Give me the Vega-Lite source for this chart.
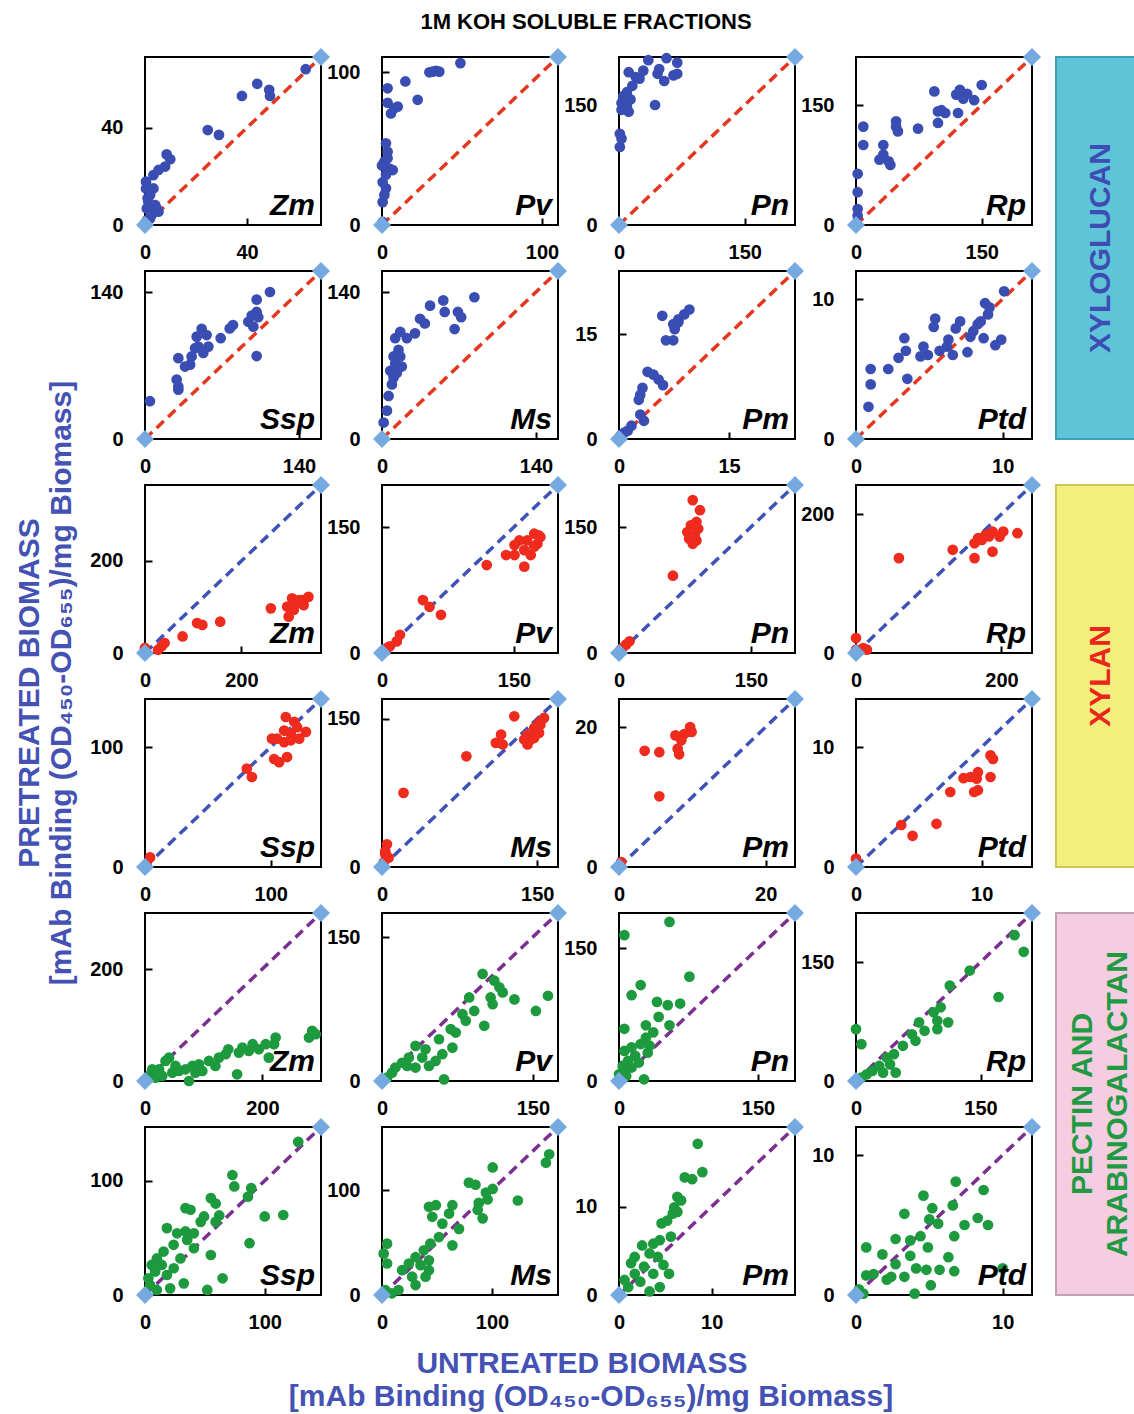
{
"$schema":"https://vega.github.io/schema/vega-lite/v6.json",
"padding":{"left":0,"top":11,"right":0,"bottom":0},
"background":"white",
"title":{"text":"1M KOH SOLUBLE FRACTIONS","anchor":"middle","frame":"bounds","dx":18,"offset":13,"fontSize":22,"font":"Liberation Sans","fontWeight":"bold","color":"black"},
"spacing":10,
"datasets":{
"c":[
{"p":"a1","x":0,"y":0,"sp":"Zm"},{"p":"a1","x":69,"y":69,"sp":"Zm"},
{"p":"a2","x":0,"y":0,"sp":"Pv"},{"p":"a2","x":110,"y":110,"sp":"Pv"},
{"p":"a3","x":0,"y":0,"sp":"Pn"},{"p":"a3","x":210,"y":210,"sp":"Pn"},
{"p":"a4","x":0,"y":0,"sp":"Rp"},{"p":"a4","x":210,"y":210,"sp":"Rp"},
{"p":"b1","x":0,"y":0,"sp":"Ssp"},{"p":"b1","x":160,"y":160,"sp":"Ssp"},
{"p":"b2","x":0,"y":0,"sp":"Ms"},{"p":"b2","x":160,"y":160,"sp":"Ms"},
{"p":"b3","x":0,"y":0,"sp":"Pm"},{"p":"b3","x":24,"y":24,"sp":"Pm"},
{"p":"b4","x":0,"y":0,"sp":"Ptd"},{"p":"b4","x":12,"y":12,"sp":"Ptd"},
{"p":"c1","x":0,"y":0,"sp":"Zm"},{"p":"c1","x":365,"y":365,"sp":"Zm"},
{"p":"c2","x":0,"y":0,"sp":"Pv"},{"p":"c2","x":200,"y":200,"sp":"Pv"},
{"p":"c3","x":0,"y":0,"sp":"Pn"},{"p":"c3","x":200,"y":200,"sp":"Pn"},
{"p":"c4","x":0,"y":0,"sp":"Rp"},{"p":"c4","x":242,"y":242,"sp":"Rp"},
{"p":"d1","x":0,"y":0,"sp":"Ssp"},{"p":"d1","x":140,"y":140,"sp":"Ssp"},
{"p":"d2","x":0,"y":0,"sp":"Ms"},{"p":"d2","x":170,"y":170,"sp":"Ms"},
{"p":"d3","x":0,"y":0,"sp":"Pm"},{"p":"d3","x":24,"y":24,"sp":"Pm"},
{"p":"d4","x":0,"y":0,"sp":"Ptd"},{"p":"d4","x":14,"y":14,"sp":"Ptd"},
{"p":"e1","x":0,"y":0,"sp":"Zm"},{"p":"e1","x":300,"y":300,"sp":"Zm"},
{"p":"e2","x":0,"y":0,"sp":"Pv"},{"p":"e2","x":175,"y":175,"sp":"Pv"},
{"p":"e3","x":0,"y":0,"sp":"Pn"},{"p":"e3","x":190,"y":190,"sp":"Pn"},
{"p":"e4","x":0,"y":0,"sp":"Rp"},{"p":"e4","x":212,"y":212,"sp":"Rp"},
{"p":"f1","x":0,"y":0,"sp":"Ssp"},{"p":"f1","x":147,"y":147,"sp":"Ssp"},
{"p":"f2","x":0,"y":0,"sp":"Ms"},{"p":"f2","x":160,"y":160,"sp":"Ms"},
{"p":"f3","x":0,"y":0,"sp":"Pm"},{"p":"f3","x":19,"y":19,"sp":"Pm"},
{"p":"f4","x":0,"y":0,"sp":"Ptd"},{"p":"f4","x":12,"y":12,"sp":"Ptd"}
],
"d":[
{"p":"a1","x":63,"y":64},{"p":"a1","x":44,"y":58},{"p":"a1","x":48.7,"y":55.5},{"p":"a1","x":49,"y":53},{"p":"a1","x":38,"y":53},{"p":"a1","x":24.6,"y":39},{"p":"a1","x":29,"y":37},{"p":"a1","x":8.5,"y":29},{"p":"a1","x":9.9,"y":27},{"p":"a1","x":7.9,"y":24},{"p":"a1","x":5.3,"y":22.6},{"p":"a1","x":3.3,"y":20.5},{"p":"a1","x":0.4,"y":17.8},{"p":"a1","x":3.3,"y":15},{"p":"a1","x":2,"y":12.3},{"p":"a1","x":1.3,"y":9.6},{"p":"a1","x":4,"y":8.2},{"p":"a1","x":5.3,"y":5.5},{"p":"a1","x":0.7,"y":6.8},{"p":"a1","x":2.6,"y":4.1},{"p":"a1","x":0.9,"y":2},{"p":"a1","x":0,"y":0.7},{"p":"a1","x":2,"y":2.7},{"p":"a1","x":4.6,"y":6.8},{"p":"a1","x":1,"y":11},{"p":"a1","x":0.4,"y":15},
{"p":"a2","x":49,"y":106},{"p":"a2","x":31.7,"y":100.4},{"p":"a2","x":33.8,"y":101},{"p":"a2","x":35.8,"y":100.4},{"p":"a2","x":29.6,"y":100},{"p":"a2","x":14.6,"y":94},{"p":"a2","x":3.5,"y":89.5},{"p":"a2","x":22.3,"y":82},{"p":"a2","x":3.5,"y":80},{"p":"a2","x":7.7,"y":76.4},{"p":"a2","x":9.8,"y":77.5},{"p":"a2","x":5.6,"y":73},{"p":"a2","x":2.5,"y":53.5},{"p":"a2","x":3.5,"y":48},{"p":"a2","x":1.5,"y":41.5},{"p":"a2","x":4.6,"y":37},{"p":"a2","x":6.7,"y":36},{"p":"a2","x":0,"y":39},{"p":"a2","x":2.5,"y":33},{"p":"a2","x":0.4,"y":28},{"p":"a2","x":2.5,"y":24},{"p":"a2","x":1.5,"y":19.7},{"p":"a2","x":0.4,"y":15},{"p":"a2","x":3.5,"y":43.7},{"p":"a2","x":0,"y":0},{"p":"a2","x":0.4,"y":2},
{"p":"a3","x":35,"y":206},{"p":"a3","x":56.7,"y":208.5},{"p":"a3","x":69.5,"y":203},{"p":"a3","x":48,"y":195},{"p":"a3","x":54,"y":180},{"p":"a3","x":46,"y":189},{"p":"a3","x":65,"y":187},{"p":"a3","x":69.5,"y":189},{"p":"a3","x":29,"y":193},{"p":"a3","x":11.6,"y":191},{"p":"a3","x":20,"y":185},{"p":"a3","x":15.9,"y":174},{"p":"a3","x":9.4,"y":166},{"p":"a3","x":5,"y":161},{"p":"a3","x":3,"y":152.5},{"p":"a3","x":9.4,"y":148},{"p":"a3","x":11.6,"y":141.6},{"p":"a3","x":3,"y":144},{"p":"a3","x":43,"y":150},{"p":"a3","x":1,"y":114},{"p":"a3","x":3,"y":108},{"p":"a3","x":1,"y":97.5},{"p":"a3","x":0.8,"y":1},{"p":"a3","x":13.7,"y":157},{"p":"a3","x":24.5,"y":183},
{"p":"a4","x":150,"y":175},{"p":"a4","x":93.5,"y":167},{"p":"a4","x":124,"y":169},{"p":"a4","x":132.6,"y":164},{"p":"a4","x":128,"y":158},{"p":"a4","x":141,"y":156},{"p":"a4","x":119.6,"y":163},{"p":"a4","x":102,"y":143.5},{"p":"a4","x":97.8,"y":142},{"p":"a4","x":106.5,"y":140},{"p":"a4","x":121.7,"y":140},{"p":"a4","x":97.8,"y":127.6},{"p":"a4","x":74,"y":120.5},{"p":"a4","x":47.8,"y":129.7},{"p":"a4","x":50,"y":117},{"p":"a4","x":47.8,"y":123},{"p":"a4","x":8.7,"y":123},{"p":"a4","x":8.7,"y":100},{"p":"a4","x":32.6,"y":100},{"p":"a4","x":32.6,"y":88},{"p":"a4","x":28,"y":81.6},{"p":"a4","x":39,"y":79.5},{"p":"a4","x":41,"y":75},{"p":"a4","x":2,"y":64},{"p":"a4","x":2,"y":41},{"p":"a4","x":2,"y":20},{"p":"a4","x":2,"y":11.7},{"p":"a4","x":0,"y":0},
{"p":"b1","x":113.6,"y":140},{"p":"b1","x":101.5,"y":132.7},{"p":"b1","x":101.5,"y":121},{"p":"b1","x":97,"y":117.6},{"p":"b1","x":103,"y":116},{"p":"b1","x":93.9,"y":111.6},{"p":"b1","x":98.5,"y":107},{"p":"b1","x":80,"y":108.5},{"p":"b1","x":77,"y":105.3},{"p":"b1","x":68.8,"y":96},{"p":"b1","x":56,"y":99},{"p":"b1","x":51.5,"y":105},{"p":"b1","x":47,"y":97.5},{"p":"b1","x":45.5,"y":86.5},{"p":"b1","x":53,"y":82},{"p":"b1","x":42.4,"y":78.6},{"p":"b1","x":30.3,"y":77},{"p":"b1","x":36.4,"y":69},{"p":"b1","x":41,"y":70.8},{"p":"b1","x":28.8,"y":56.6},{"p":"b1","x":30.3,"y":47},{"p":"b1","x":4.5,"y":36},{"p":"b1","x":101.5,"y":79},{"p":"b1","x":48.5,"y":88},{"p":"b1","x":57.6,"y":88},{"p":"b1","x":30.3,"y":50},
{"p":"b2","x":84,"y":135},{"p":"b2","x":55.7,"y":132},{"p":"b2","x":43.7,"y":127},{"p":"b2","x":57,"y":121},{"p":"b2","x":69,"y":121},{"p":"b2","x":72,"y":116},{"p":"b2","x":66,"y":104.7},{"p":"b2","x":34.6,"y":114.5},{"p":"b2","x":39,"y":110},{"p":"b2","x":30,"y":100.6},{"p":"b2","x":22.6,"y":96},{"p":"b2","x":16.6,"y":102},{"p":"b2","x":12,"y":96},{"p":"b2","x":15,"y":85},{"p":"b2","x":16.6,"y":78.6},{"p":"b2","x":12,"y":72},{"p":"b2","x":18,"y":69},{"p":"b2","x":7.5,"y":65},{"p":"b2","x":10.5,"y":58.5},{"p":"b2","x":9,"y":52},{"p":"b2","x":6,"y":41},{"p":"b2","x":4.5,"y":27},{"p":"b2","x":1.5,"y":15.7},{"p":"b2","x":10.5,"y":78.6},{"p":"b2","x":13.5,"y":63},
{"p":"b3","x":5.9,"y":17.6},{"p":"b3","x":9.6,"y":18.5},{"p":"b3","x":8.9,"y":17.8},{"p":"b3","x":8.1,"y":17.1},{"p":"b3","x":7.4,"y":16.4},{"p":"b3","x":7.6,"y":15.7},{"p":"b3","x":6.4,"y":14.1},{"p":"b3","x":7.4,"y":14.1},{"p":"b3","x":8.1,"y":16.7},{"p":"b3","x":3.9,"y":9.6},{"p":"b3","x":4.7,"y":9.2},{"p":"b3","x":5.4,"y":8.5},{"p":"b3","x":6,"y":7.7},{"p":"b3","x":3.2,"y":7.3},{"p":"b3","x":2.9,"y":6.3},{"p":"b3","x":2.7,"y":5.6},{"p":"b3","x":2.9,"y":3.5},{"p":"b3","x":3.4,"y":2.6},{"p":"b3","x":1.7,"y":1.9},{"p":"b3","x":0.7,"y":0.9},{"p":"b3","x":0.2,"y":0.5},{"p":"b3","x":1.2,"y":1.2},
{"p":"b4","x":10.1,"y":10.55},{"p":"b4","x":8.8,"y":9.7},{"p":"b4","x":9.1,"y":9.4},{"p":"b4","x":9,"y":8.9},{"p":"b4","x":8.5,"y":8.4},{"p":"b4","x":8.3,"y":8.2},{"p":"b4","x":8,"y":7.7},{"p":"b4","x":7.8,"y":7.3},{"p":"b4","x":8.7,"y":7.2},{"p":"b4","x":9.9,"y":7.1},{"p":"b4","x":9.5,"y":6.7},{"p":"b4","x":7.6,"y":6.2},{"p":"b4","x":7.1,"y":8.4},{"p":"b4","x":6.8,"y":7.9},{"p":"b4","x":6.3,"y":7.1},{"p":"b4","x":6.2,"y":6.6},{"p":"b4","x":6.6,"y":6},{"p":"b4","x":5.4,"y":8.6},{"p":"b4","x":5.3,"y":8},{"p":"b4","x":5.7,"y":6.3},{"p":"b4","x":4.9,"y":6},{"p":"b4","x":4.6,"y":6.6},{"p":"b4","x":4.4,"y":5.9},{"p":"b4","x":3.3,"y":7.2},{"p":"b4","x":3.4,"y":6.3},{"p":"b4","x":2.9,"y":5.8},{"p":"b4","x":3.5,"y":4.3},{"p":"b4","x":2.2,"y":5},{"p":"b4","x":1,"y":5},{"p":"b4","x":1,"y":3.9},{"p":"b4","x":0.85,"y":2.3},
{"p":"c1","x":261,"y":97},{"p":"c1","x":295,"y":100.7},{"p":"c1","x":305,"y":118.7},{"p":"c1","x":315,"y":108},{"p":"c1","x":325,"y":115},{"p":"c1","x":339,"y":122},{"p":"c1","x":308.5,"y":93.5},{"p":"c1","x":298,"y":79},{"p":"c1","x":329,"y":104},{"p":"c1","x":319,"y":115},{"p":"c1","x":156,"y":68},{"p":"c1","x":119,"y":61},{"p":"c1","x":108,"y":65},{"p":"c1","x":78,"y":36},{"p":"c1","x":40.7,"y":21.6},{"p":"c1","x":27,"y":7},{"p":"c1","x":0,"y":7},{"p":"c1","x":0,"y":11},{"p":"c1","x":34,"y":14},
{"p":"c2","x":180,"y":138},{"p":"c2","x":173,"y":142},{"p":"c2","x":176.6,"y":130},{"p":"c2","x":165,"y":134},{"p":"c2","x":156,"y":134},{"p":"c2","x":150.6,"y":128.5},{"p":"c2","x":141,"y":116.6},{"p":"c2","x":150.6,"y":116.6},{"p":"c2","x":161.7,"y":122.5},{"p":"c2","x":169,"y":116.6},{"p":"c2","x":161.7,"y":102.8},{"p":"c2","x":173,"y":126.5},{"p":"c2","x":119,"y":104.7},{"p":"c2","x":46.5,"y":63},{"p":"c2","x":54,"y":55},{"p":"c2","x":67,"y":45.5},{"p":"c2","x":20.4,"y":21.7},{"p":"c2","x":16.7,"y":13.8},{"p":"c2","x":5.6,"y":6},{"p":"c2","x":1.9,"y":2},{"p":"c2","x":9,"y":8},{"p":"c2","x":178,"y":140},
{"p":"c3","x":83.8,"y":182},{"p":"c3","x":92,"y":170},{"p":"c3","x":88,"y":156},{"p":"c3","x":81.7,"y":152},{"p":"c3","x":90,"y":148},{"p":"c3","x":77.6,"y":144},{"p":"c3","x":86,"y":140},{"p":"c3","x":79.7,"y":136},{"p":"c3","x":88,"y":134},{"p":"c3","x":83.8,"y":130},{"p":"c3","x":61.3,"y":92},{"p":"c3","x":8,"y":10},{"p":"c3","x":2,"y":4},{"p":"c3","x":12,"y":14},{"p":"c3","x":0,"y":0},{"p":"c3","x":4,"y":6},
{"p":"c4","x":222,"y":172.6},{"p":"c4","x":202.5,"y":175},{"p":"c4","x":187.7,"y":175},{"p":"c4","x":178,"y":170},{"p":"c4","x":197.5,"y":167.6},{"p":"c4","x":168,"y":165.5},{"p":"c4","x":163,"y":158},{"p":"c4","x":187.7,"y":146},{"p":"c4","x":163,"y":136.7},{"p":"c4","x":133,"y":148.7},{"p":"c4","x":173,"y":163},{"p":"c4","x":183,"y":168},{"p":"c4","x":59,"y":136.7},{"p":"c4","x":0,"y":21.6},{"p":"c4","x":0,"y":4.8},{"p":"c4","x":10,"y":7},{"p":"c4","x":15,"y":4.8},{"p":"c4","x":0,"y":0},
{"p":"d1","x":112,"y":125},{"p":"d1","x":118.7,"y":121},{"p":"d1","x":121,"y":116.5},{"p":"d1","x":128,"y":112.6},{"p":"d1","x":116,"y":111},{"p":"d1","x":110.7,"y":113.7},{"p":"d1","x":105,"y":107},{"p":"d1","x":101,"y":107},{"p":"d1","x":110.7,"y":104},{"p":"d1","x":116,"y":105.6},{"p":"d1","x":122.7,"y":107},{"p":"d1","x":113,"y":91.6},{"p":"d1","x":102.7,"y":90},{"p":"d1","x":106.7,"y":87.4},{"p":"d1","x":81,"y":82},{"p":"d1","x":85,"y":75},{"p":"d1","x":4,"y":8},{"p":"d1","x":1.3,"y":2.2},{"p":"d1","x":0,"y":0.8},
{"p":"d2","x":127.8,"y":152.5},{"p":"d2","x":156.5,"y":150.8},{"p":"d2","x":151.7,"y":145.8},{"p":"d2","x":147,"y":140.7},{"p":"d2","x":151.7,"y":135.7},{"p":"d2","x":140.6,"y":134},{"p":"d2","x":143.8,"y":129},{"p":"d2","x":137.4,"y":129},{"p":"d2","x":147,"y":130.7},{"p":"d2","x":140.6,"y":124},{"p":"d2","x":153,"y":144},{"p":"d2","x":115,"y":134},{"p":"d2","x":110,"y":125.6},{"p":"d2","x":116.6,"y":124},{"p":"d2","x":81.5,"y":112},{"p":"d2","x":20.8,"y":75},{"p":"d2","x":4.8,"y":23},{"p":"d2","x":3.2,"y":16},{"p":"d2","x":6.4,"y":9.4},{"p":"d2","x":1.6,"y":4.4},{"p":"d2","x":3.2,"y":12.8},{"p":"d2","x":0,"y":1},
{"p":"d3","x":9.7,"y":20},{"p":"d3","x":8.9,"y":19},{"p":"d3","x":9.9,"y":19.3},{"p":"d3","x":7.7,"y":18.8},{"p":"d3","x":8.5,"y":18.1},{"p":"d3","x":8,"y":16.9},{"p":"d3","x":8.2,"y":16.1},{"p":"d3","x":3.5,"y":16.6},{"p":"d3","x":5.5,"y":16.4},{"p":"d3","x":5.5,"y":10.1},{"p":"d3","x":0.1,"y":0},{"p":"d3","x":0.3,"y":0.7},
{"p":"d4","x":10.7,"y":9.3},{"p":"d4","x":10.9,"y":9},{"p":"d4","x":9.7,"y":7.9},{"p":"d4","x":9.1,"y":7.5},{"p":"d4","x":8.55,"y":7.4},{"p":"d4","x":10.7,"y":7.5},{"p":"d4","x":9.6,"y":7.36},{"p":"d4","x":9.7,"y":6.4},{"p":"d4","x":9.4,"y":6.25},{"p":"d4","x":7.5,"y":6.25},{"p":"d4","x":6.4,"y":3.6},{"p":"d4","x":3.6,"y":3.5},{"p":"d4","x":4.5,"y":2.6},{"p":"d4","x":0,"y":0.7},{"p":"d4","x":0,"y":0.1},
{"p":"e1","x":285,"y":89.5},{"p":"e1","x":279.5,"y":77.6},{"p":"e1","x":291,"y":83.6},{"p":"e1","x":220,"y":65.7},{"p":"e1","x":205.7,"y":65.7},{"p":"e1","x":211,"y":41.8},{"p":"e1","x":194,"y":56.7},{"p":"e1","x":177,"y":53.7},{"p":"e1","x":160,"y":50.7},{"p":"e1","x":142,"y":56.7},{"p":"e1","x":137.5,"y":47.8},{"p":"e1","x":126,"y":41.8},{"p":"e1","x":109,"y":35.8},{"p":"e1","x":92,"y":29.9},{"p":"e1","x":80.7,"y":26.9},{"p":"e1","x":69,"y":20.9},{"p":"e1","x":58,"y":17.9},{"p":"e1","x":46.6,"y":14.9},{"p":"e1","x":35,"y":35.8},{"p":"e1","x":41,"y":41.8},{"p":"e1","x":29.5,"y":9},{"p":"e1","x":18,"y":6},{"p":"e1","x":9.7,"y":12},{"p":"e1","x":12.5,"y":21},{"p":"e1","x":4,"y":3},{"p":"e1","x":157,"y":12},{"p":"e1","x":75,"y":0},{"p":"e1","x":97.7,"y":17.9},{"p":"e1","x":120,"y":26.9},{"p":"e1","x":52,"y":26.9},{"p":"e1","x":86,"y":14.9},{"p":"e1","x":24,"y":20.9},{"p":"e1","x":1,"y":0},{"p":"e1","x":166,"y":59.7},{"p":"e1","x":183.5,"y":65.7},{"p":"e1","x":222.7,"y":77.6},
{"p":"e2","x":100,"y":111.5},{"p":"e2","x":111.7,"y":104.5},{"p":"e2","x":116.7,"y":97.6},{"p":"e2","x":120,"y":92.3},{"p":"e2","x":108,"y":87},{"p":"e2","x":110,"y":80},{"p":"e2","x":131.7,"y":85},{"p":"e2","x":153,"y":73},{"p":"e2","x":165,"y":88.8},{"p":"e2","x":101.7,"y":57.5},{"p":"e2","x":86.7,"y":87},{"p":"e2","x":91.7,"y":73},{"p":"e2","x":80,"y":69.7},{"p":"e2","x":83.3,"y":62.7},{"p":"e2","x":73.3,"y":50.5},{"p":"e2","x":68.3,"y":54},{"p":"e2","x":56.7,"y":43.5},{"p":"e2","x":70,"y":34.8},{"p":"e2","x":60,"y":27.9},{"p":"e2","x":53.3,"y":20.9},{"p":"e2","x":61.7,"y":1.7},{"p":"e2","x":43.3,"y":33},{"p":"e2","x":33.3,"y":36.6},{"p":"e2","x":26.7,"y":24.4},{"p":"e2","x":20,"y":19},{"p":"e2","x":13.3,"y":14},{"p":"e2","x":10,"y":8.7},{"p":"e2","x":5,"y":3.5},{"p":"e2","x":33.3,"y":14},{"p":"e2","x":46.7,"y":15.7},{"p":"e2","x":0,"y":0},{"p":"e2","x":25,"y":15.7},{"p":"e2","x":40,"y":24.4},
{"p":"e3","x":54.5,"y":180},{"p":"e3","x":5.8,"y":165},{"p":"e3","x":76,"y":118},{"p":"e3","x":23.4,"y":108.5},{"p":"e3","x":13.6,"y":97},{"p":"e3","x":41,"y":89.5},{"p":"e3","x":66,"y":87.6},{"p":"e3","x":52.6,"y":85.8},{"p":"e3","x":42.8,"y":72.5},{"p":"e3","x":54.5,"y":63},{"p":"e3","x":29,"y":63},{"p":"e3","x":5.8,"y":59},{"p":"e3","x":37,"y":55},{"p":"e3","x":29,"y":49},{"p":"e3","x":23.4,"y":41.8},{"p":"e3","x":13.6,"y":38},{"p":"e3","x":5.8,"y":34},{"p":"e3","x":33,"y":39.9},{"p":"e3","x":17.5,"y":28.5},{"p":"e3","x":9.7,"y":22.8},{"p":"e3","x":3.9,"y":17},{"p":"e3","x":13.6,"y":15.2},{"p":"e3","x":27,"y":1.9},{"p":"e3","x":0,"y":7.6},{"p":"e3","x":5.8,"y":11.4},{"p":"e3","x":21.4,"y":20.9},{"p":"e3","x":31,"y":32},{"p":"e3","x":0,"y":0},{"p":"e3","x":2,"y":2},{"p":"e3","x":7.8,"y":5.7},
{"p":"e4","x":191,"y":184},{"p":"e4","x":202,"y":163},{"p":"e4","x":171.7,"y":106},{"p":"e4","x":137,"y":139.4},{"p":"e4","x":113,"y":120.4},{"p":"e4","x":102,"y":93},{"p":"e4","x":93.5,"y":86.7},{"p":"e4","x":111,"y":74},{"p":"e4","x":98,"y":76},{"p":"e4","x":76,"y":74},{"p":"e4","x":67.4,"y":59},{"p":"e4","x":71.7,"y":50.7},{"p":"e4","x":56.5,"y":44.4},{"p":"e4","x":45.7,"y":33.8},{"p":"e4","x":37,"y":29.6},{"p":"e4","x":41,"y":21},{"p":"e4","x":28,"y":19},{"p":"e4","x":19.6,"y":12.7},{"p":"e4","x":13,"y":8.5},{"p":"e4","x":6.5,"y":4.2},{"p":"e4","x":0,"y":65.5},{"p":"e4","x":6.5,"y":46.5},{"p":"e4","x":2,"y":0},{"p":"e4","x":98,"y":65.5},{"p":"e4","x":82.6,"y":63.4},{"p":"e4","x":32.6,"y":10.6},{"p":"e4","x":47.8,"y":10.6},
{"p":"f1","x":128,"y":134},{"p":"f1","x":73,"y":105},{"p":"f1","x":74.6,"y":95},{"p":"f1","x":88.7,"y":93.6},{"p":"f1","x":86,"y":86},{"p":"f1","x":100,"y":68.7},{"p":"f1","x":115.5,"y":70},{"p":"f1","x":87.3,"y":45.3},{"p":"f1","x":55,"y":84.8},{"p":"f1","x":59,"y":80},{"p":"f1","x":62,"y":69.6},{"p":"f1","x":59,"y":64},{"p":"f1","x":49.3,"y":68.7},{"p":"f1","x":33.8,"y":76},{"p":"f1","x":38,"y":74.6},{"p":"f1","x":46.5,"y":64},{"p":"f1","x":40.8,"y":54},{"p":"f1","x":33.8,"y":55.6},{"p":"f1","x":26.8,"y":54},{"p":"f1","x":18.3,"y":58.5},{"p":"f1","x":35.2,"y":48.2},{"p":"f1","x":23.9,"y":43.9},{"p":"f1","x":15.5,"y":38},{"p":"f1","x":9.9,"y":32},{"p":"f1","x":5.6,"y":26.3},{"p":"f1","x":8.5,"y":20.5},{"p":"f1","x":2.8,"y":14.6},{"p":"f1","x":4.2,"y":8.8},{"p":"f1","x":9.9,"y":4.4},{"p":"f1","x":21,"y":5.8},{"p":"f1","x":32.4,"y":10.2},{"p":"f1","x":55,"y":35},{"p":"f1","x":64.8,"y":14.6},{"p":"f1","x":52,"y":4.4},{"p":"f1","x":24,"y":23.4},{"p":"f1","x":29.6,"y":32},{"p":"f1","x":40.8,"y":40.9},{"p":"f1","x":18.3,"y":17.5},{"p":"f1","x":14,"y":26.3},{"p":"f1","x":0,"y":0},
{"p":"f2","x":152,"y":134},{"p":"f2","x":149,"y":126},{"p":"f2","x":100.6,"y":121.5},{"p":"f2","x":79,"y":107},{"p":"f2","x":85,"y":105},{"p":"f2","x":123.5,"y":90},{"p":"f2","x":100.6,"y":101},{"p":"f2","x":94.5,"y":97.5},{"p":"f2","x":96,"y":91},{"p":"f2","x":88,"y":87.7},{"p":"f2","x":91.5,"y":73},{"p":"f2","x":87,"y":81},{"p":"f2","x":64,"y":85.5},{"p":"f2","x":61,"y":77.6},{"p":"f2","x":49,"y":85.5},{"p":"f2","x":42.7,"y":84},{"p":"f2","x":45.7,"y":74.5},{"p":"f2","x":54.9,"y":68},{"p":"f2","x":70,"y":63},{"p":"f2","x":64,"y":47.3},{"p":"f2","x":51.8,"y":55.2},{"p":"f2","x":44,"y":48.9},{"p":"f2","x":38,"y":42.6},{"p":"f2","x":30.5,"y":36},{"p":"f2","x":42.7,"y":33},{"p":"f2","x":35,"y":28.4},{"p":"f2","x":24.4,"y":30},{"p":"f2","x":18.3,"y":23.6},{"p":"f2","x":27.4,"y":17.4},{"p":"f2","x":39.6,"y":17.4},{"p":"f2","x":42.7,"y":23.6},{"p":"f2","x":30.5,"y":9.5},{"p":"f2","x":4.6,"y":48.9},{"p":"f2","x":1.5,"y":39.4},{"p":"f2","x":4.6,"y":30},{"p":"f2","x":3,"y":4.7},{"p":"f2","x":9,"y":1.6},{"p":"f2","x":15,"y":4.7},{"p":"f2","x":0,"y":0},
{"p":"f3","x":8.5,"y":17.1},{"p":"f3","x":9,"y":13.9},{"p":"f3","x":7.1,"y":13.3},{"p":"f3","x":7.9,"y":13.1},{"p":"f3","x":6.3,"y":11.1},{"p":"f3","x":6.7,"y":10.7},{"p":"f3","x":5.96,"y":9.9},{"p":"f3","x":5.8,"y":9.2},{"p":"f3","x":5.2,"y":8.4},{"p":"f3","x":4.6,"y":8.1},{"p":"f3","x":6.3,"y":9.4},{"p":"f3","x":5.6,"y":6.6},{"p":"f3","x":4.4,"y":6.2},{"p":"f3","x":3.7,"y":5.8},{"p":"f3","x":2.5,"y":5.6},{"p":"f3","x":3.3,"y":4.7},{"p":"f3","x":4.2,"y":4.3},{"p":"f3","x":4.8,"y":3.4},{"p":"f3","x":5.4,"y":2.4},{"p":"f3","x":1.7,"y":4.3},{"p":"f3","x":1.3,"y":3.6},{"p":"f3","x":2.7,"y":3.2},{"p":"f3","x":3.7,"y":2.4},{"p":"f3","x":4.4,"y":0.9},{"p":"f3","x":3.3,"y":0.4},{"p":"f3","x":0.6,"y":1.7},{"p":"f3","x":1,"y":0.9},{"p":"f3","x":0,"y":0},{"p":"f3","x":2.3,"y":1.5},{"p":"f3","x":1.7,"y":2.4},
{"p":"f4","x":6.8,"y":8.1},{"p":"f4","x":8.7,"y":7.5},{"p":"f4","x":4.6,"y":7.1},{"p":"f4","x":6.6,"y":6.4},{"p":"f4","x":5.2,"y":6.2},{"p":"f4","x":3.3,"y":5.8},{"p":"f4","x":8.3,"y":5.5},{"p":"f4","x":9,"y":5},{"p":"f4","x":7.4,"y":5},{"p":"f4","x":5.6,"y":5.1},{"p":"f4","x":5,"y":5.4},{"p":"f4","x":2.7,"y":4},{"p":"f4","x":3.7,"y":3.9},{"p":"f4","x":4.4,"y":4.2},{"p":"f4","x":6.7,"y":4.2},{"p":"f4","x":4.9,"y":3.4},{"p":"f4","x":6.3,"y":2.7},{"p":"f4","x":0.7,"y":3.4},{"p":"f4","x":1.8,"y":2.9},{"p":"f4","x":2.7,"y":2.2},{"p":"f4","x":3.7,"y":2.8},{"p":"f4","x":4.1,"y":1.9},{"p":"f4","x":4.8,"y":1.8},{"p":"f4","x":5.7,"y":1.8},{"p":"f4","x":6.7,"y":1.7},{"p":"f4","x":10,"y":1.9},{"p":"f4","x":4,"y":0.1},{"p":"f4","x":5.1,"y":0.7},{"p":"f4","x":2.1,"y":1.1},{"p":"f4","x":0.7,"y":1.4},{"p":"f4","x":1.2,"y":1.5},{"p":"f4","x":0.2,"y":0.4},{"p":"f4","x":0.5,"y":0.1},{"p":"f4","x":0,"y":0},{"p":"f4","x":2.4,"y":1.3},{"p":"f4","x":3.3,"y":1.3}
]
},
"hconcat":[
{"width":78,"height":1238,"view":{"stroke":null},
 "data":{"values":[{"a":"PRETREATED BIOMASS","b":"[mAb Binding (OD₄₅₀-OD₆₅₅)/mg Biomass]"}]},
 "layer":[
  {"mark":{"type":"text","angle":270,"baseline":"middle","align":"center","font":"Liberation Sans","fontWeight":"bold","fontSize":30,"color":"#4452b4"},
   "encoding":{"text":{"field":"a"},"x":{"datum":30,"type":"quantitative","scale":{"domain":[0,78],"nice":false},"axis":null},"y":{"datum":602,"type":"quantitative","scale":{"domain":[0,1238],"nice":false},"axis":null}}},
  {"mark":{"type":"text","angle":270,"baseline":"middle","align":"center","font":"Liberation Sans","fontWeight":"bold","fontSize":30,"color":"#4452b4"},
   "encoding":{"text":{"field":"b"},"x":{"datum":62,"type":"quantitative"},"y":{"datum":612,"type":"quantitative"}}}
 ]},
{"vconcat":[
 {"columns":4,"spacing":{"row":46,"column":61},"bounds":"flush",
  "concat":[
{"width":176,"height":168,"layer":[{"data":{"name":"c"},"transform":[{"filter":"datum.p=='a1'"}],"mark":{"type":"line","strokeDash":[10,6],"strokeWidth":3.5,"color":"#e5361f"},"encoding":{"x":{"field":"x","type":"quantitative","scale":{"nice":false},"axis":{"values":[0,40],"title":null}},"y":{"field":"y","type":"quantitative","scale":{"nice":false},"axis":{"values":[0,40],"title":null}}}},{"data":{"name":"d"},"transform":[{"filter":"datum.p=='a1'"}],"mark":{"type":"circle","size":115,"opacity":1,"color":"#3a4db3"},"encoding":{"x":{"field":"x","type":"quantitative"},"y":{"field":"y","type":"quantitative"}}},{"data":{"name":"c"},"transform":[{"filter":"datum.p=='a1'"}],"mark":{"type":"point","shape":"diamond","filled":true,"size":324,"opacity":1,"color":"#74aadf"},"encoding":{"x":{"field":"x","type":"quantitative"},"y":{"field":"y","type":"quantitative"}}},{"data":{"name":"c"},"transform":[{"filter":"datum.p=='a1' && datum.x>0"}],"mark":{"type":"text","align":"right","baseline":"alphabetic","dx":-6,"dy":-10,"font":"Liberation Sans","fontSize":30,"fontWeight":"bold","fontStyle":"italic","color":"black"},"encoding":{"x":{"field":"x","type":"quantitative"},"y":{"datum":0,"type":"quantitative"},"text":{"field":"sp"}}}]},
{"width":176,"height":168,"layer":[{"data":{"name":"c"},"transform":[{"filter":"datum.p=='a2'"}],"mark":{"type":"line","strokeDash":[10,6],"strokeWidth":3.5,"color":"#e5361f"},"encoding":{"x":{"field":"x","type":"quantitative","scale":{"nice":false},"axis":{"values":[0,100],"title":null}},"y":{"field":"y","type":"quantitative","scale":{"nice":false},"axis":{"values":[0,100],"title":null}}}},{"data":{"name":"d"},"transform":[{"filter":"datum.p=='a2'"}],"mark":{"type":"circle","size":115,"opacity":1,"color":"#3a4db3"},"encoding":{"x":{"field":"x","type":"quantitative"},"y":{"field":"y","type":"quantitative"}}},{"data":{"name":"c"},"transform":[{"filter":"datum.p=='a2'"}],"mark":{"type":"point","shape":"diamond","filled":true,"size":324,"opacity":1,"color":"#74aadf"},"encoding":{"x":{"field":"x","type":"quantitative"},"y":{"field":"y","type":"quantitative"}}},{"data":{"name":"c"},"transform":[{"filter":"datum.p=='a2' && datum.x>0"}],"mark":{"type":"text","align":"right","baseline":"alphabetic","dx":-6,"dy":-10,"font":"Liberation Sans","fontSize":30,"fontWeight":"bold","fontStyle":"italic","color":"black"},"encoding":{"x":{"field":"x","type":"quantitative"},"y":{"datum":0,"type":"quantitative"},"text":{"field":"sp"}}}]},
{"width":176,"height":168,"layer":[{"data":{"name":"c"},"transform":[{"filter":"datum.p=='a3'"}],"mark":{"type":"line","strokeDash":[10,6],"strokeWidth":3.5,"color":"#e5361f"},"encoding":{"x":{"field":"x","type":"quantitative","scale":{"nice":false},"axis":{"values":[0,150],"title":null}},"y":{"field":"y","type":"quantitative","scale":{"nice":false},"axis":{"values":[0,150],"title":null}}}},{"data":{"name":"d"},"transform":[{"filter":"datum.p=='a3'"}],"mark":{"type":"circle","size":115,"opacity":1,"color":"#3a4db3"},"encoding":{"x":{"field":"x","type":"quantitative"},"y":{"field":"y","type":"quantitative"}}},{"data":{"name":"c"},"transform":[{"filter":"datum.p=='a3'"}],"mark":{"type":"point","shape":"diamond","filled":true,"size":324,"opacity":1,"color":"#74aadf"},"encoding":{"x":{"field":"x","type":"quantitative"},"y":{"field":"y","type":"quantitative"}}},{"data":{"name":"c"},"transform":[{"filter":"datum.p=='a3' && datum.x>0"}],"mark":{"type":"text","align":"right","baseline":"alphabetic","dx":-6,"dy":-10,"font":"Liberation Sans","fontSize":30,"fontWeight":"bold","fontStyle":"italic","color":"black"},"encoding":{"x":{"field":"x","type":"quantitative"},"y":{"datum":0,"type":"quantitative"},"text":{"field":"sp"}}}]},
{"width":176,"height":168,"layer":[{"data":{"name":"c"},"transform":[{"filter":"datum.p=='a4'"}],"mark":{"type":"line","strokeDash":[10,6],"strokeWidth":3.5,"color":"#e5361f"},"encoding":{"x":{"field":"x","type":"quantitative","scale":{"nice":false},"axis":{"values":[0,150],"title":null}},"y":{"field":"y","type":"quantitative","scale":{"nice":false},"axis":{"values":[0,150],"title":null}}}},{"data":{"name":"d"},"transform":[{"filter":"datum.p=='a4'"}],"mark":{"type":"circle","size":115,"opacity":1,"color":"#3a4db3"},"encoding":{"x":{"field":"x","type":"quantitative"},"y":{"field":"y","type":"quantitative"}}},{"data":{"name":"c"},"transform":[{"filter":"datum.p=='a4'"}],"mark":{"type":"point","shape":"diamond","filled":true,"size":324,"opacity":1,"color":"#74aadf"},"encoding":{"x":{"field":"x","type":"quantitative"},"y":{"field":"y","type":"quantitative"}}},{"data":{"name":"c"},"transform":[{"filter":"datum.p=='a4' && datum.x>0"}],"mark":{"type":"text","align":"right","baseline":"alphabetic","dx":-6,"dy":-10,"font":"Liberation Sans","fontSize":30,"fontWeight":"bold","fontStyle":"italic","color":"black"},"encoding":{"x":{"field":"x","type":"quantitative"},"y":{"datum":0,"type":"quantitative"},"text":{"field":"sp"}}}]},
{"width":176,"height":168,"layer":[{"data":{"name":"c"},"transform":[{"filter":"datum.p=='b1'"}],"mark":{"type":"line","strokeDash":[10,6],"strokeWidth":3.5,"color":"#e5361f"},"encoding":{"x":{"field":"x","type":"quantitative","scale":{"nice":false},"axis":{"values":[0,140],"title":null}},"y":{"field":"y","type":"quantitative","scale":{"nice":false},"axis":{"values":[0,140],"title":null}}}},{"data":{"name":"d"},"transform":[{"filter":"datum.p=='b1'"}],"mark":{"type":"circle","size":115,"opacity":1,"color":"#3a4db3"},"encoding":{"x":{"field":"x","type":"quantitative"},"y":{"field":"y","type":"quantitative"}}},{"data":{"name":"c"},"transform":[{"filter":"datum.p=='b1'"}],"mark":{"type":"point","shape":"diamond","filled":true,"size":324,"opacity":1,"color":"#74aadf"},"encoding":{"x":{"field":"x","type":"quantitative"},"y":{"field":"y","type":"quantitative"}}},{"data":{"name":"c"},"transform":[{"filter":"datum.p=='b1' && datum.x>0"}],"mark":{"type":"text","align":"right","baseline":"alphabetic","dx":-6,"dy":-10,"font":"Liberation Sans","fontSize":30,"fontWeight":"bold","fontStyle":"italic","color":"black"},"encoding":{"x":{"field":"x","type":"quantitative"},"y":{"datum":0,"type":"quantitative"},"text":{"field":"sp"}}}]},
{"width":176,"height":168,"layer":[{"data":{"name":"c"},"transform":[{"filter":"datum.p=='b2'"}],"mark":{"type":"line","strokeDash":[10,6],"strokeWidth":3.5,"color":"#e5361f"},"encoding":{"x":{"field":"x","type":"quantitative","scale":{"nice":false},"axis":{"values":[0,140],"title":null}},"y":{"field":"y","type":"quantitative","scale":{"nice":false},"axis":{"values":[0,140],"title":null}}}},{"data":{"name":"d"},"transform":[{"filter":"datum.p=='b2'"}],"mark":{"type":"circle","size":115,"opacity":1,"color":"#3a4db3"},"encoding":{"x":{"field":"x","type":"quantitative"},"y":{"field":"y","type":"quantitative"}}},{"data":{"name":"c"},"transform":[{"filter":"datum.p=='b2'"}],"mark":{"type":"point","shape":"diamond","filled":true,"size":324,"opacity":1,"color":"#74aadf"},"encoding":{"x":{"field":"x","type":"quantitative"},"y":{"field":"y","type":"quantitative"}}},{"data":{"name":"c"},"transform":[{"filter":"datum.p=='b2' && datum.x>0"}],"mark":{"type":"text","align":"right","baseline":"alphabetic","dx":-6,"dy":-10,"font":"Liberation Sans","fontSize":30,"fontWeight":"bold","fontStyle":"italic","color":"black"},"encoding":{"x":{"field":"x","type":"quantitative"},"y":{"datum":0,"type":"quantitative"},"text":{"field":"sp"}}}]},
{"width":176,"height":168,"layer":[{"data":{"name":"c"},"transform":[{"filter":"datum.p=='b3'"}],"mark":{"type":"line","strokeDash":[10,6],"strokeWidth":3.5,"color":"#e5361f"},"encoding":{"x":{"field":"x","type":"quantitative","scale":{"nice":false},"axis":{"values":[0,15],"title":null}},"y":{"field":"y","type":"quantitative","scale":{"nice":false},"axis":{"values":[0,15],"title":null}}}},{"data":{"name":"d"},"transform":[{"filter":"datum.p=='b3'"}],"mark":{"type":"circle","size":115,"opacity":1,"color":"#3a4db3"},"encoding":{"x":{"field":"x","type":"quantitative"},"y":{"field":"y","type":"quantitative"}}},{"data":{"name":"c"},"transform":[{"filter":"datum.p=='b3'"}],"mark":{"type":"point","shape":"diamond","filled":true,"size":324,"opacity":1,"color":"#74aadf"},"encoding":{"x":{"field":"x","type":"quantitative"},"y":{"field":"y","type":"quantitative"}}},{"data":{"name":"c"},"transform":[{"filter":"datum.p=='b3' && datum.x>0"}],"mark":{"type":"text","align":"right","baseline":"alphabetic","dx":-6,"dy":-10,"font":"Liberation Sans","fontSize":30,"fontWeight":"bold","fontStyle":"italic","color":"black"},"encoding":{"x":{"field":"x","type":"quantitative"},"y":{"datum":0,"type":"quantitative"},"text":{"field":"sp"}}}]},
{"width":176,"height":168,"layer":[{"data":{"name":"c"},"transform":[{"filter":"datum.p=='b4'"}],"mark":{"type":"line","strokeDash":[10,6],"strokeWidth":3.5,"color":"#e5361f"},"encoding":{"x":{"field":"x","type":"quantitative","scale":{"nice":false},"axis":{"values":[0,10],"title":null}},"y":{"field":"y","type":"quantitative","scale":{"nice":false},"axis":{"values":[0,10],"title":null}}}},{"data":{"name":"d"},"transform":[{"filter":"datum.p=='b4'"}],"mark":{"type":"circle","size":115,"opacity":1,"color":"#3a4db3"},"encoding":{"x":{"field":"x","type":"quantitative"},"y":{"field":"y","type":"quantitative"}}},{"data":{"name":"c"},"transform":[{"filter":"datum.p=='b4'"}],"mark":{"type":"point","shape":"diamond","filled":true,"size":324,"opacity":1,"color":"#74aadf"},"encoding":{"x":{"field":"x","type":"quantitative"},"y":{"field":"y","type":"quantitative"}}},{"data":{"name":"c"},"transform":[{"filter":"datum.p=='b4' && datum.x>0"}],"mark":{"type":"text","align":"right","baseline":"alphabetic","dx":-6,"dy":-10,"font":"Liberation Sans","fontSize":30,"fontWeight":"bold","fontStyle":"italic","color":"black"},"encoding":{"x":{"field":"x","type":"quantitative"},"y":{"datum":0,"type":"quantitative"},"text":{"field":"sp"}}}]},
{"width":176,"height":168,"layer":[{"data":{"name":"c"},"transform":[{"filter":"datum.p=='c1'"}],"mark":{"type":"line","strokeDash":[10,6],"strokeWidth":3.5,"color":"#3e52b8"},"encoding":{"x":{"field":"x","type":"quantitative","scale":{"nice":false},"axis":{"values":[0,200],"title":null}},"y":{"field":"y","type":"quantitative","scale":{"nice":false},"axis":{"values":[0,200],"title":null}}}},{"data":{"name":"d"},"transform":[{"filter":"datum.p=='c1'"}],"mark":{"type":"circle","size":115,"opacity":1,"color":"#ee2b1c"},"encoding":{"x":{"field":"x","type":"quantitative"},"y":{"field":"y","type":"quantitative"}}},{"data":{"name":"c"},"transform":[{"filter":"datum.p=='c1'"}],"mark":{"type":"point","shape":"diamond","filled":true,"size":324,"opacity":1,"color":"#74aadf"},"encoding":{"x":{"field":"x","type":"quantitative"},"y":{"field":"y","type":"quantitative"}}},{"data":{"name":"c"},"transform":[{"filter":"datum.p=='c1' && datum.x>0"}],"mark":{"type":"text","align":"right","baseline":"alphabetic","dx":-6,"dy":-10,"font":"Liberation Sans","fontSize":30,"fontWeight":"bold","fontStyle":"italic","color":"black"},"encoding":{"x":{"field":"x","type":"quantitative"},"y":{"datum":0,"type":"quantitative"},"text":{"field":"sp"}}}]},
{"width":176,"height":168,"layer":[{"data":{"name":"c"},"transform":[{"filter":"datum.p=='c2'"}],"mark":{"type":"line","strokeDash":[10,6],"strokeWidth":3.5,"color":"#3e52b8"},"encoding":{"x":{"field":"x","type":"quantitative","scale":{"nice":false},"axis":{"values":[0,150],"title":null}},"y":{"field":"y","type":"quantitative","scale":{"nice":false},"axis":{"values":[0,150],"title":null}}}},{"data":{"name":"d"},"transform":[{"filter":"datum.p=='c2'"}],"mark":{"type":"circle","size":115,"opacity":1,"color":"#ee2b1c"},"encoding":{"x":{"field":"x","type":"quantitative"},"y":{"field":"y","type":"quantitative"}}},{"data":{"name":"c"},"transform":[{"filter":"datum.p=='c2'"}],"mark":{"type":"point","shape":"diamond","filled":true,"size":324,"opacity":1,"color":"#74aadf"},"encoding":{"x":{"field":"x","type":"quantitative"},"y":{"field":"y","type":"quantitative"}}},{"data":{"name":"c"},"transform":[{"filter":"datum.p=='c2' && datum.x>0"}],"mark":{"type":"text","align":"right","baseline":"alphabetic","dx":-6,"dy":-10,"font":"Liberation Sans","fontSize":30,"fontWeight":"bold","fontStyle":"italic","color":"black"},"encoding":{"x":{"field":"x","type":"quantitative"},"y":{"datum":0,"type":"quantitative"},"text":{"field":"sp"}}}]},
{"width":176,"height":168,"layer":[{"data":{"name":"c"},"transform":[{"filter":"datum.p=='c3'"}],"mark":{"type":"line","strokeDash":[10,6],"strokeWidth":3.5,"color":"#3e52b8"},"encoding":{"x":{"field":"x","type":"quantitative","scale":{"nice":false},"axis":{"values":[0,150],"title":null}},"y":{"field":"y","type":"quantitative","scale":{"nice":false},"axis":{"values":[0,150],"title":null}}}},{"data":{"name":"d"},"transform":[{"filter":"datum.p=='c3'"}],"mark":{"type":"circle","size":115,"opacity":1,"color":"#ee2b1c"},"encoding":{"x":{"field":"x","type":"quantitative"},"y":{"field":"y","type":"quantitative"}}},{"data":{"name":"c"},"transform":[{"filter":"datum.p=='c3'"}],"mark":{"type":"point","shape":"diamond","filled":true,"size":324,"opacity":1,"color":"#74aadf"},"encoding":{"x":{"field":"x","type":"quantitative"},"y":{"field":"y","type":"quantitative"}}},{"data":{"name":"c"},"transform":[{"filter":"datum.p=='c3' && datum.x>0"}],"mark":{"type":"text","align":"right","baseline":"alphabetic","dx":-6,"dy":-10,"font":"Liberation Sans","fontSize":30,"fontWeight":"bold","fontStyle":"italic","color":"black"},"encoding":{"x":{"field":"x","type":"quantitative"},"y":{"datum":0,"type":"quantitative"},"text":{"field":"sp"}}}]},
{"width":176,"height":168,"layer":[{"data":{"name":"c"},"transform":[{"filter":"datum.p=='c4'"}],"mark":{"type":"line","strokeDash":[10,6],"strokeWidth":3.5,"color":"#3e52b8"},"encoding":{"x":{"field":"x","type":"quantitative","scale":{"nice":false},"axis":{"values":[0,200],"title":null}},"y":{"field":"y","type":"quantitative","scale":{"nice":false},"axis":{"values":[0,200],"title":null}}}},{"data":{"name":"d"},"transform":[{"filter":"datum.p=='c4'"}],"mark":{"type":"circle","size":115,"opacity":1,"color":"#ee2b1c"},"encoding":{"x":{"field":"x","type":"quantitative"},"y":{"field":"y","type":"quantitative"}}},{"data":{"name":"c"},"transform":[{"filter":"datum.p=='c4'"}],"mark":{"type":"point","shape":"diamond","filled":true,"size":324,"opacity":1,"color":"#74aadf"},"encoding":{"x":{"field":"x","type":"quantitative"},"y":{"field":"y","type":"quantitative"}}},{"data":{"name":"c"},"transform":[{"filter":"datum.p=='c4' && datum.x>0"}],"mark":{"type":"text","align":"right","baseline":"alphabetic","dx":-6,"dy":-10,"font":"Liberation Sans","fontSize":30,"fontWeight":"bold","fontStyle":"italic","color":"black"},"encoding":{"x":{"field":"x","type":"quantitative"},"y":{"datum":0,"type":"quantitative"},"text":{"field":"sp"}}}]},
{"width":176,"height":168,"layer":[{"data":{"name":"c"},"transform":[{"filter":"datum.p=='d1'"}],"mark":{"type":"line","strokeDash":[10,6],"strokeWidth":3.5,"color":"#3e52b8"},"encoding":{"x":{"field":"x","type":"quantitative","scale":{"nice":false},"axis":{"values":[0,100],"title":null}},"y":{"field":"y","type":"quantitative","scale":{"nice":false},"axis":{"values":[0,100],"title":null}}}},{"data":{"name":"d"},"transform":[{"filter":"datum.p=='d1'"}],"mark":{"type":"circle","size":115,"opacity":1,"color":"#ee2b1c"},"encoding":{"x":{"field":"x","type":"quantitative"},"y":{"field":"y","type":"quantitative"}}},{"data":{"name":"c"},"transform":[{"filter":"datum.p=='d1'"}],"mark":{"type":"point","shape":"diamond","filled":true,"size":324,"opacity":1,"color":"#74aadf"},"encoding":{"x":{"field":"x","type":"quantitative"},"y":{"field":"y","type":"quantitative"}}},{"data":{"name":"c"},"transform":[{"filter":"datum.p=='d1' && datum.x>0"}],"mark":{"type":"text","align":"right","baseline":"alphabetic","dx":-6,"dy":-10,"font":"Liberation Sans","fontSize":30,"fontWeight":"bold","fontStyle":"italic","color":"black"},"encoding":{"x":{"field":"x","type":"quantitative"},"y":{"datum":0,"type":"quantitative"},"text":{"field":"sp"}}}]},
{"width":176,"height":168,"layer":[{"data":{"name":"c"},"transform":[{"filter":"datum.p=='d2'"}],"mark":{"type":"line","strokeDash":[10,6],"strokeWidth":3.5,"color":"#3e52b8"},"encoding":{"x":{"field":"x","type":"quantitative","scale":{"nice":false},"axis":{"values":[0,150],"title":null}},"y":{"field":"y","type":"quantitative","scale":{"nice":false},"axis":{"values":[0,150],"title":null}}}},{"data":{"name":"d"},"transform":[{"filter":"datum.p=='d2'"}],"mark":{"type":"circle","size":115,"opacity":1,"color":"#ee2b1c"},"encoding":{"x":{"field":"x","type":"quantitative"},"y":{"field":"y","type":"quantitative"}}},{"data":{"name":"c"},"transform":[{"filter":"datum.p=='d2'"}],"mark":{"type":"point","shape":"diamond","filled":true,"size":324,"opacity":1,"color":"#74aadf"},"encoding":{"x":{"field":"x","type":"quantitative"},"y":{"field":"y","type":"quantitative"}}},{"data":{"name":"c"},"transform":[{"filter":"datum.p=='d2' && datum.x>0"}],"mark":{"type":"text","align":"right","baseline":"alphabetic","dx":-6,"dy":-10,"font":"Liberation Sans","fontSize":30,"fontWeight":"bold","fontStyle":"italic","color":"black"},"encoding":{"x":{"field":"x","type":"quantitative"},"y":{"datum":0,"type":"quantitative"},"text":{"field":"sp"}}}]},
{"width":176,"height":168,"layer":[{"data":{"name":"c"},"transform":[{"filter":"datum.p=='d3'"}],"mark":{"type":"line","strokeDash":[10,6],"strokeWidth":3.5,"color":"#3e52b8"},"encoding":{"x":{"field":"x","type":"quantitative","scale":{"nice":false},"axis":{"values":[0,20],"title":null}},"y":{"field":"y","type":"quantitative","scale":{"nice":false},"axis":{"values":[0,20],"title":null}}}},{"data":{"name":"d"},"transform":[{"filter":"datum.p=='d3'"}],"mark":{"type":"circle","size":115,"opacity":1,"color":"#ee2b1c"},"encoding":{"x":{"field":"x","type":"quantitative"},"y":{"field":"y","type":"quantitative"}}},{"data":{"name":"c"},"transform":[{"filter":"datum.p=='d3'"}],"mark":{"type":"point","shape":"diamond","filled":true,"size":324,"opacity":1,"color":"#74aadf"},"encoding":{"x":{"field":"x","type":"quantitative"},"y":{"field":"y","type":"quantitative"}}},{"data":{"name":"c"},"transform":[{"filter":"datum.p=='d3' && datum.x>0"}],"mark":{"type":"text","align":"right","baseline":"alphabetic","dx":-6,"dy":-10,"font":"Liberation Sans","fontSize":30,"fontWeight":"bold","fontStyle":"italic","color":"black"},"encoding":{"x":{"field":"x","type":"quantitative"},"y":{"datum":0,"type":"quantitative"},"text":{"field":"sp"}}}]},
{"width":176,"height":168,"layer":[{"data":{"name":"c"},"transform":[{"filter":"datum.p=='d4'"}],"mark":{"type":"line","strokeDash":[10,6],"strokeWidth":3.5,"color":"#3e52b8"},"encoding":{"x":{"field":"x","type":"quantitative","scale":{"nice":false},"axis":{"values":[0,10],"title":null}},"y":{"field":"y","type":"quantitative","scale":{"nice":false},"axis":{"values":[0,10],"title":null}}}},{"data":{"name":"d"},"transform":[{"filter":"datum.p=='d4'"}],"mark":{"type":"circle","size":115,"opacity":1,"color":"#ee2b1c"},"encoding":{"x":{"field":"x","type":"quantitative"},"y":{"field":"y","type":"quantitative"}}},{"data":{"name":"c"},"transform":[{"filter":"datum.p=='d4'"}],"mark":{"type":"point","shape":"diamond","filled":true,"size":324,"opacity":1,"color":"#74aadf"},"encoding":{"x":{"field":"x","type":"quantitative"},"y":{"field":"y","type":"quantitative"}}},{"data":{"name":"c"},"transform":[{"filter":"datum.p=='d4' && datum.x>0"}],"mark":{"type":"text","align":"right","baseline":"alphabetic","dx":-6,"dy":-10,"font":"Liberation Sans","fontSize":30,"fontWeight":"bold","fontStyle":"italic","color":"black"},"encoding":{"x":{"field":"x","type":"quantitative"},"y":{"datum":0,"type":"quantitative"},"text":{"field":"sp"}}}]},
{"width":176,"height":168,"layer":[{"data":{"name":"c"},"transform":[{"filter":"datum.p=='e1'"}],"mark":{"type":"line","strokeDash":[10,6],"strokeWidth":3.5,"color":"#7b2f91"},"encoding":{"x":{"field":"x","type":"quantitative","scale":{"nice":false},"axis":{"values":[0,200],"title":null}},"y":{"field":"y","type":"quantitative","scale":{"nice":false},"axis":{"values":[0,200],"title":null}}}},{"data":{"name":"d"},"transform":[{"filter":"datum.p=='e1'"}],"mark":{"type":"circle","size":115,"opacity":1,"color":"#1e9a3e"},"encoding":{"x":{"field":"x","type":"quantitative"},"y":{"field":"y","type":"quantitative"}}},{"data":{"name":"c"},"transform":[{"filter":"datum.p=='e1'"}],"mark":{"type":"point","shape":"diamond","filled":true,"size":324,"opacity":1,"color":"#74aadf"},"encoding":{"x":{"field":"x","type":"quantitative"},"y":{"field":"y","type":"quantitative"}}},{"data":{"name":"c"},"transform":[{"filter":"datum.p=='e1' && datum.x>0"}],"mark":{"type":"text","align":"right","baseline":"alphabetic","dx":-6,"dy":-10,"font":"Liberation Sans","fontSize":30,"fontWeight":"bold","fontStyle":"italic","color":"black"},"encoding":{"x":{"field":"x","type":"quantitative"},"y":{"datum":0,"type":"quantitative"},"text":{"field":"sp"}}}]},
{"width":176,"height":168,"layer":[{"data":{"name":"c"},"transform":[{"filter":"datum.p=='e2'"}],"mark":{"type":"line","strokeDash":[10,6],"strokeWidth":3.5,"color":"#7b2f91"},"encoding":{"x":{"field":"x","type":"quantitative","scale":{"nice":false},"axis":{"values":[0,150],"title":null}},"y":{"field":"y","type":"quantitative","scale":{"nice":false},"axis":{"values":[0,150],"title":null}}}},{"data":{"name":"d"},"transform":[{"filter":"datum.p=='e2'"}],"mark":{"type":"circle","size":115,"opacity":1,"color":"#1e9a3e"},"encoding":{"x":{"field":"x","type":"quantitative"},"y":{"field":"y","type":"quantitative"}}},{"data":{"name":"c"},"transform":[{"filter":"datum.p=='e2'"}],"mark":{"type":"point","shape":"diamond","filled":true,"size":324,"opacity":1,"color":"#74aadf"},"encoding":{"x":{"field":"x","type":"quantitative"},"y":{"field":"y","type":"quantitative"}}},{"data":{"name":"c"},"transform":[{"filter":"datum.p=='e2' && datum.x>0"}],"mark":{"type":"text","align":"right","baseline":"alphabetic","dx":-6,"dy":-10,"font":"Liberation Sans","fontSize":30,"fontWeight":"bold","fontStyle":"italic","color":"black"},"encoding":{"x":{"field":"x","type":"quantitative"},"y":{"datum":0,"type":"quantitative"},"text":{"field":"sp"}}}]},
{"width":176,"height":168,"layer":[{"data":{"name":"c"},"transform":[{"filter":"datum.p=='e3'"}],"mark":{"type":"line","strokeDash":[10,6],"strokeWidth":3.5,"color":"#7b2f91"},"encoding":{"x":{"field":"x","type":"quantitative","scale":{"nice":false},"axis":{"values":[0,150],"title":null}},"y":{"field":"y","type":"quantitative","scale":{"nice":false},"axis":{"values":[0,150],"title":null}}}},{"data":{"name":"d"},"transform":[{"filter":"datum.p=='e3'"}],"mark":{"type":"circle","size":115,"opacity":1,"color":"#1e9a3e"},"encoding":{"x":{"field":"x","type":"quantitative"},"y":{"field":"y","type":"quantitative"}}},{"data":{"name":"c"},"transform":[{"filter":"datum.p=='e3'"}],"mark":{"type":"point","shape":"diamond","filled":true,"size":324,"opacity":1,"color":"#74aadf"},"encoding":{"x":{"field":"x","type":"quantitative"},"y":{"field":"y","type":"quantitative"}}},{"data":{"name":"c"},"transform":[{"filter":"datum.p=='e3' && datum.x>0"}],"mark":{"type":"text","align":"right","baseline":"alphabetic","dx":-6,"dy":-10,"font":"Liberation Sans","fontSize":30,"fontWeight":"bold","fontStyle":"italic","color":"black"},"encoding":{"x":{"field":"x","type":"quantitative"},"y":{"datum":0,"type":"quantitative"},"text":{"field":"sp"}}}]},
{"width":176,"height":168,"layer":[{"data":{"name":"c"},"transform":[{"filter":"datum.p=='e4'"}],"mark":{"type":"line","strokeDash":[10,6],"strokeWidth":3.5,"color":"#7b2f91"},"encoding":{"x":{"field":"x","type":"quantitative","scale":{"nice":false},"axis":{"values":[0,150],"title":null}},"y":{"field":"y","type":"quantitative","scale":{"nice":false},"axis":{"values":[0,150],"title":null}}}},{"data":{"name":"d"},"transform":[{"filter":"datum.p=='e4'"}],"mark":{"type":"circle","size":115,"opacity":1,"color":"#1e9a3e"},"encoding":{"x":{"field":"x","type":"quantitative"},"y":{"field":"y","type":"quantitative"}}},{"data":{"name":"c"},"transform":[{"filter":"datum.p=='e4'"}],"mark":{"type":"point","shape":"diamond","filled":true,"size":324,"opacity":1,"color":"#74aadf"},"encoding":{"x":{"field":"x","type":"quantitative"},"y":{"field":"y","type":"quantitative"}}},{"data":{"name":"c"},"transform":[{"filter":"datum.p=='e4' && datum.x>0"}],"mark":{"type":"text","align":"right","baseline":"alphabetic","dx":-6,"dy":-10,"font":"Liberation Sans","fontSize":30,"fontWeight":"bold","fontStyle":"italic","color":"black"},"encoding":{"x":{"field":"x","type":"quantitative"},"y":{"datum":0,"type":"quantitative"},"text":{"field":"sp"}}}]},
{"width":176,"height":168,"layer":[{"data":{"name":"c"},"transform":[{"filter":"datum.p=='f1'"}],"mark":{"type":"line","strokeDash":[10,6],"strokeWidth":3.5,"color":"#7b2f91"},"encoding":{"x":{"field":"x","type":"quantitative","scale":{"nice":false},"axis":{"values":[0,100],"title":null}},"y":{"field":"y","type":"quantitative","scale":{"nice":false},"axis":{"values":[0,100],"title":null}}}},{"data":{"name":"d"},"transform":[{"filter":"datum.p=='f1'"}],"mark":{"type":"circle","size":115,"opacity":1,"color":"#1e9a3e"},"encoding":{"x":{"field":"x","type":"quantitative"},"y":{"field":"y","type":"quantitative"}}},{"data":{"name":"c"},"transform":[{"filter":"datum.p=='f1'"}],"mark":{"type":"point","shape":"diamond","filled":true,"size":324,"opacity":1,"color":"#74aadf"},"encoding":{"x":{"field":"x","type":"quantitative"},"y":{"field":"y","type":"quantitative"}}},{"data":{"name":"c"},"transform":[{"filter":"datum.p=='f1' && datum.x>0"}],"mark":{"type":"text","align":"right","baseline":"alphabetic","dx":-6,"dy":-10,"font":"Liberation Sans","fontSize":30,"fontWeight":"bold","fontStyle":"italic","color":"black"},"encoding":{"x":{"field":"x","type":"quantitative"},"y":{"datum":0,"type":"quantitative"},"text":{"field":"sp"}}}]},
{"width":176,"height":168,"layer":[{"data":{"name":"c"},"transform":[{"filter":"datum.p=='f2'"}],"mark":{"type":"line","strokeDash":[10,6],"strokeWidth":3.5,"color":"#7b2f91"},"encoding":{"x":{"field":"x","type":"quantitative","scale":{"nice":false},"axis":{"values":[0,100],"title":null}},"y":{"field":"y","type":"quantitative","scale":{"nice":false},"axis":{"values":[0,100],"title":null}}}},{"data":{"name":"d"},"transform":[{"filter":"datum.p=='f2'"}],"mark":{"type":"circle","size":115,"opacity":1,"color":"#1e9a3e"},"encoding":{"x":{"field":"x","type":"quantitative"},"y":{"field":"y","type":"quantitative"}}},{"data":{"name":"c"},"transform":[{"filter":"datum.p=='f2'"}],"mark":{"type":"point","shape":"diamond","filled":true,"size":324,"opacity":1,"color":"#74aadf"},"encoding":{"x":{"field":"x","type":"quantitative"},"y":{"field":"y","type":"quantitative"}}},{"data":{"name":"c"},"transform":[{"filter":"datum.p=='f2' && datum.x>0"}],"mark":{"type":"text","align":"right","baseline":"alphabetic","dx":-6,"dy":-10,"font":"Liberation Sans","fontSize":30,"fontWeight":"bold","fontStyle":"italic","color":"black"},"encoding":{"x":{"field":"x","type":"quantitative"},"y":{"datum":0,"type":"quantitative"},"text":{"field":"sp"}}}]},
{"width":176,"height":168,"layer":[{"data":{"name":"c"},"transform":[{"filter":"datum.p=='f3'"}],"mark":{"type":"line","strokeDash":[10,6],"strokeWidth":3.5,"color":"#7b2f91"},"encoding":{"x":{"field":"x","type":"quantitative","scale":{"nice":false},"axis":{"values":[0,10],"title":null}},"y":{"field":"y","type":"quantitative","scale":{"nice":false},"axis":{"values":[0,10],"title":null}}}},{"data":{"name":"d"},"transform":[{"filter":"datum.p=='f3'"}],"mark":{"type":"circle","size":115,"opacity":1,"color":"#1e9a3e"},"encoding":{"x":{"field":"x","type":"quantitative"},"y":{"field":"y","type":"quantitative"}}},{"data":{"name":"c"},"transform":[{"filter":"datum.p=='f3'"}],"mark":{"type":"point","shape":"diamond","filled":true,"size":324,"opacity":1,"color":"#74aadf"},"encoding":{"x":{"field":"x","type":"quantitative"},"y":{"field":"y","type":"quantitative"}}},{"data":{"name":"c"},"transform":[{"filter":"datum.p=='f3' && datum.x>0"}],"mark":{"type":"text","align":"right","baseline":"alphabetic","dx":-6,"dy":-10,"font":"Liberation Sans","fontSize":30,"fontWeight":"bold","fontStyle":"italic","color":"black"},"encoding":{"x":{"field":"x","type":"quantitative"},"y":{"datum":0,"type":"quantitative"},"text":{"field":"sp"}}}]},
{"width":176,"height":168,"layer":[{"data":{"name":"c"},"transform":[{"filter":"datum.p=='f4'"}],"mark":{"type":"line","strokeDash":[10,6],"strokeWidth":3.5,"color":"#7b2f91"},"encoding":{"x":{"field":"x","type":"quantitative","scale":{"nice":false},"axis":{"values":[0,10],"title":null}},"y":{"field":"y","type":"quantitative","scale":{"nice":false},"axis":{"values":[0,10],"title":null}}}},{"data":{"name":"d"},"transform":[{"filter":"datum.p=='f4'"}],"mark":{"type":"circle","size":115,"opacity":1,"color":"#1e9a3e"},"encoding":{"x":{"field":"x","type":"quantitative"},"y":{"field":"y","type":"quantitative"}}},{"data":{"name":"c"},"transform":[{"filter":"datum.p=='f4'"}],"mark":{"type":"point","shape":"diamond","filled":true,"size":324,"opacity":1,"color":"#74aadf"},"encoding":{"x":{"field":"x","type":"quantitative"},"y":{"field":"y","type":"quantitative"}}},{"data":{"name":"c"},"transform":[{"filter":"datum.p=='f4' && datum.x>0"}],"mark":{"type":"text","align":"right","baseline":"alphabetic","dx":-6,"dy":-10,"font":"Liberation Sans","fontSize":30,"fontWeight":"bold","fontStyle":"italic","color":"black"},"encoding":{"x":{"field":"x","type":"quantitative"},"y":{"datum":0,"type":"quantitative"},"text":{"field":"sp"}}}]}
  ]},
 {"width":900,"height":86,"view":{"stroke":null},
  "data":{"values":[{"a":"UNTREATED BIOMASS","b":"[mAb Binding (OD₄₅₀-OD₆₅₅)/mg Biomass]"}]},
  "layer":[
   {"mark":{"type":"text","baseline":"middle","align":"center","font":"Liberation Sans","fontWeight":"bold","fontSize":30,"color":"#4452b4"},
    "encoding":{"text":{"field":"a"},"x":{"datum":437,"type":"quantitative","scale":{"domain":[0,900],"nice":false},"axis":null},"y":{"datum":55,"type":"quantitative","scale":{"domain":[0,86],"nice":false},"axis":null}}},
   {"mark":{"type":"text","baseline":"middle","align":"center","font":"Liberation Sans","fontWeight":"bold","fontSize":30,"color":"#4452b4"},
    "encoding":{"text":{"field":"b"},"x":{"datum":446,"type":"quantitative"},"y":{"datum":22,"type":"quantitative"}}}
  ]}
 ],"spacing":0},
{"vconcat":[
 {"width":79,"height":382,"view":{"fill":"#5ec5d8","stroke":"#3f9fb6","strokeWidth":2},"data":{"values":[{"t":"XYLOGLUCAN"}]},
  "mark":{"type":"text","angle":270,"baseline":"middle","align":"center","font":"Liberation Sans","fontWeight":"bold","fontSize":30,"color":"#3d4db3"},
  "encoding":{"text":{"field":"t"},"x":{"datum":45,"type":"quantitative","scale":{"domain":[0,79],"nice":false},"axis":null}}},
 {"width":79,"height":382,"view":{"fill":"#f4ef7d","stroke":"#cfc65a","strokeWidth":2},"data":{"values":[{"t":"XYLAN"}]},
  "mark":{"type":"text","angle":270,"baseline":"middle","align":"center","font":"Liberation Sans","fontWeight":"bold","fontSize":30,"color":"#e8261c"},
  "encoding":{"text":{"field":"t"},"x":{"datum":45,"type":"quantitative","scale":{"domain":[0,79],"nice":false},"axis":null}}},
 {"width":79,"height":382,"view":{"fill":"#f5cde0","stroke":"#c4a0b2","strokeWidth":2},"data":{"values":[{"a":"PECTIN AND","b":"ARABINOGALACTAN"}]},
  "layer":[
   {"mark":{"type":"text","angle":270,"baseline":"middle","align":"center","font":"Liberation Sans","fontWeight":"bold","fontSize":30,"color":"#1f9a43"},
    "encoding":{"text":{"field":"a"},"x":{"datum":27,"type":"quantitative","scale":{"domain":[0,79],"nice":false},"axis":null}}},
   {"mark":{"type":"text","angle":270,"baseline":"middle","align":"center","font":"Liberation Sans","fontWeight":"bold","fontSize":30,"color":"#1f9a43"},
    "encoding":{"text":{"field":"b"},"x":{"datum":62,"type":"quantitative"}}}
  ]}
 ],"spacing":46,"bounds":"flush"}
],
"config":{
 "view":{"stroke":"black","strokeWidth":2},
 "axis":{"domain":false,"grid":false,"ticks":true,"tickSize":-7,"tickWidth":2,"tickColor":"black","labelFont":"Liberation Sans","labelFontWeight":"bold","labelFontSize":20,"labelColor":"black","labelFlush":false,"labelOverlap":false},
 "axisX":{"labelPadding":24},
 "axisY":{"labelPadding":29}
}
}
